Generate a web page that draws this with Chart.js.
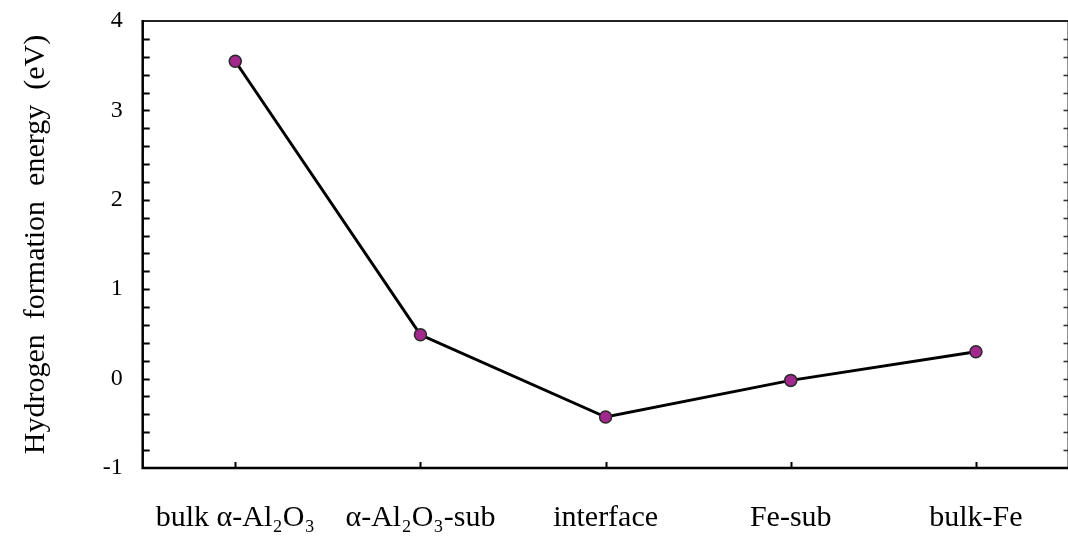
<!DOCTYPE html>
<html>
<head>
<meta charset="utf-8">
<script src="https://cdn.jsdelivr.net/npm/chart.js@4.4.1/dist/chart.umd.min.js"></script>
<style>
  html, body { margin: 0; padding: 0; background: #fff; overflow: hidden; }
  #wrap { width: 1068px; height: 536px; overflow: hidden; }
  canvas { display: block; }
</style>
</head>
<body>
<div id="wrap"><canvas id="c" width="1076" height="536"></canvas></div>
<script>
const categories = ['bulk α-Al₂O₃', 'α-Al₂O₃-sub', 'interface', 'Fe-sub', 'bulk-Fe'];
const energies = [3.55, 0.49, -0.43, -0.02, 0.30];
const yMin = -1;
const yMax = 4;
const yMajorStep = 1;
const yMinorStep = 0.2;
const yTitle = 'Hydrogen  formation  energy  (eV)';

const FONT = "'Liberation Serif', 'Times New Roman', serif";

const framePlugin = {
  id: 'frame',
  beforeDatasetsDraw(chart) {
    const { ctx, chartArea: a, scales } = chart;
    const ys = scales.y, xs = scales.x;
    ctx.save();
    ctx.strokeStyle = '#222';
    ctx.lineWidth = 2;
    ctx.beginPath();
    ctx.moveTo(a.left, a.top);
    ctx.lineTo(a.right, a.top);
    ctx.lineTo(a.right, a.bottom);
    ctx.stroke();
    const n = Math.round((yMax - yMin) / yMinorStep);
    for (let i = 1; i < n; i++) {
      const v = yMin + i * yMinorStep;
      const py = Math.round(ys.getPixelForValue(v)) + 0.5;
      ctx.strokeStyle = '#000';
      ctx.lineWidth = 2;
      ctx.beginPath();
      ctx.moveTo(a.left, py);
      ctx.lineTo(a.left + 7, py);
      ctx.stroke();
      ctx.strokeStyle = '#333';
      ctx.lineWidth = 1.6;
      ctx.beginPath();
      ctx.moveTo(a.right - 5, py);
      ctx.lineTo(a.right, py);
      ctx.stroke();
    }
    ctx.strokeStyle = '#000';
    ctx.lineWidth = 2;
    for (let i = 0; i < categories.length; i++) {
      const px = Math.round(xs.getPixelForValue(i)) + 0.5;
      ctx.beginPath();
      ctx.moveTo(px, a.bottom);
      ctx.lineTo(px, a.bottom - 6);
      ctx.stroke();
    }
    ctx.lineWidth = 2.5;
    ctx.beginPath();
    ctx.moveTo(a.left, a.top - 1);
    ctx.lineTo(a.left, a.bottom);
    ctx.lineTo(a.right + 2, a.bottom);
    ctx.stroke();
    ctx.restore();
  }
};

new Chart(document.getElementById('c'), {
  type: 'line',
  data: {
    labels: categories,
    datasets: [{
      data: energies,
      borderColor: '#000',
      borderWidth: 3,
      tension: 0,
      pointRadius: 6,
      pointBackgroundColor: '#A3288E',
      pointBorderColor: '#2a2a2a',
      pointBorderWidth: 1.5,
      fill: false
    }]
  },
  options: {
    responsive: false,
    animation: false,
    layout: { padding: { top: 21, right: 5, left: 0, bottom: 0 } },
    plugins: { legend: { display: false }, tooltip: { enabled: false } },
    scales: {
      x: {
        type: 'category',
        offset: true,
        grid: { display: false, drawTicks: false },
        border: { display: false },
        ticks: {
          color: '#000',
          font: { family: FONT, size: 30 },
          padding: 32,
          maxRotation: 0,
          autoSkip: false
        },
        afterFit(scale) { scale.height = 68; scale.paddingLeft = 0; scale.paddingRight = 0; }
      },
      y: {
        min: yMin,
        max: yMax,
        grid: { display: false, drawTicks: false },
        border: { display: false },
        ticks: {
          stepSize: yMajorStep,
          color: '#000',
          font: { family: FONT, size: 24 },
          padding: 20
        },
        title: {
          display: true,
          text: yTitle,
          color: '#000',
          font: { family: FONT, size: 30 },
          padding: { top: 18, bottom: 0 }
        },
        afterFit(scale) { scale.width = 142.7; scale.paddingTop = 0; scale.paddingBottom = 0; }
      }
    }
  },
  plugins: [framePlugin]
});
</script>
</body>
</html>
